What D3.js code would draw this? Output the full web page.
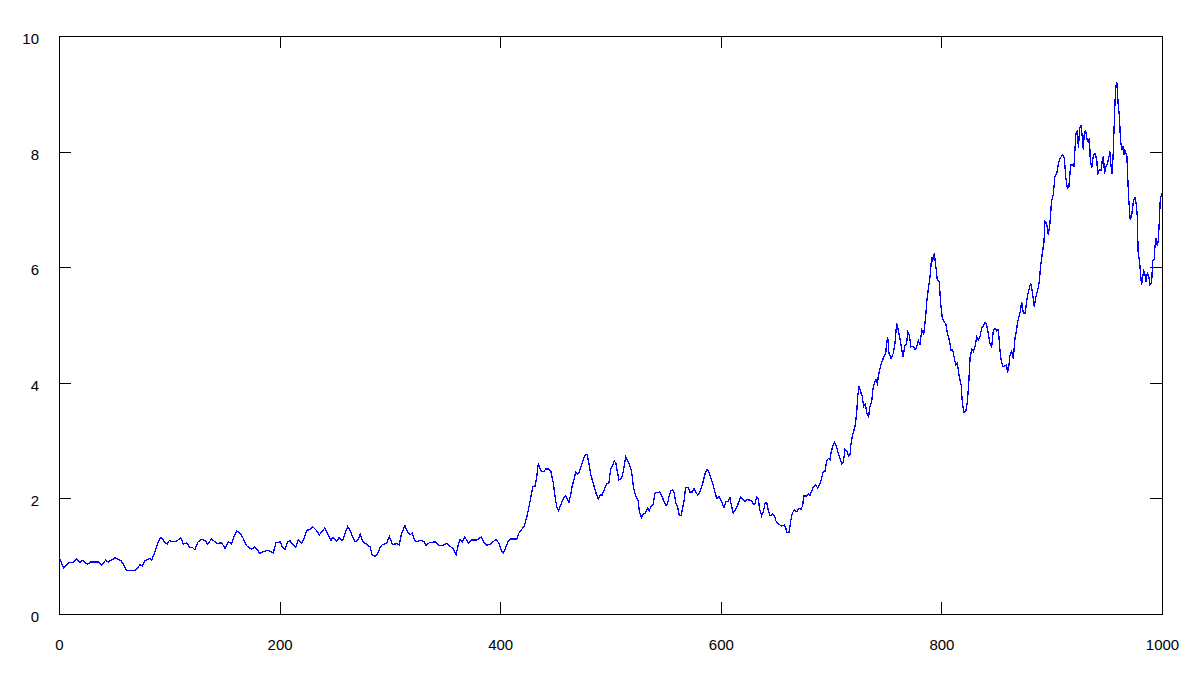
<!DOCTYPE html>
<html>
<head>
<meta charset="utf-8">
<script src="https://cdn.jsdelivr.net/npm/d3@7"></script>
<style>
  body { margin: 0; background: #fff; }
  svg { display: block; }
  .axis text { font-family: Arial, "Liberation Sans", sans-serif; font-size: 15px; fill: #000; }
  .axis path, .axis line { stroke: #000; }
</style>
</head>
<body>
<svg id="svg" width="1199" height="684"></svg>
<script>
"use strict";

// x positions (steps 0..1000)
const steps = [
  0, 4, 9, 13, 16, 19, 21.5, 25.7, 28.7, 35.7, 38.7, 42.3, 44.7, 50.8, 56.2, 58.3, 61.3, 68.9, 73.4, 75.5,
  78, 82.5, 84, 87, 89.5, 91.8, 93.6, 96, 98, 100, 102, 106.7, 110.3, 112.7, 116, 118.2, 121, 123.3, 125.7, 129.4,
  132.4, 134.8, 138.4, 143, 147.5, 150.5, 153.5, 156.5, 158.7, 161, 163.3, 166.2, 170.2, 174.7, 177.7, 182.2, 185.2, 189.8, 194.3, 196.7,
  200.4, 202.5, 204.9, 207.3, 209.4, 211, 214.6, 217, 220, 222.4, 224.5, 227.5, 230, 233.7, 236, 238.8, 240.9, 242.7, 245, 246.6,
  248.4, 251.7, 253.8, 257.2, 259.3, 261.7, 263.9, 266.2, 268.4, 270.8, 273.2, 275.3, 278, 282, 284, 286.5, 288.6, 291, 293.1, 297,
  299.5, 302.3, 306.3, 308.4, 310.7, 313.7, 316, 318.1, 320.3, 322.2, 324.3, 327.3, 331.2, 332.8, 335.5, 341, 344.5, 348.5, 351.5, 353.6,
  357, 360, 361.5, 363.6, 365.7, 368, 371.3, 374, 378.5, 383, 385.5, 387.6, 391.5, 393.6, 396.2, 399, 401, 403, 405, 407,
  409, 415, 417, 419, 421.8, 424, 425.5, 427.6, 429.5, 431.5, 433, 434.6, 436, 437.6, 440, 441.2, 444, 446, 448.2, 449.7,
  451.2, 453, 455, 457.2, 459.3, 461, 462.3, 464.2, 465.4, 466.9, 468.4, 470.2, 471.4, 473.3, 474.8, 476.9, 478.7, 480.5, 482.3, 484.4,
  486, 487.4, 489, 490.7, 492.5, 494.3, 496.5, 498.5, 500.1, 502, 503.5, 505, 506.2, 507.7, 510, 511.5, 513.8, 515.3, 516.8, 518.6,
  519.8, 520.7, 522.2, 523.7, 525.2, 526.1, 528.2, 529.7, 531.8, 533.7, 535, 536.8, 538.6, 540.3, 542.4, 544.9, 547, 548.8, 550.3, 551.8,
  553.3, 554.8, 556.3, 557.8, 559.3, 560.8, 562.4, 563.9, 565.4, 566.6, 568.1, 570.5, 572, 574.2, 575.7, 577.2, 579, 581.1, 582.6, 584.4,
  586.2, 587.7, 589.2, 591, 593.1, 594.6, 596.3, 598.4, 600.8, 602.9, 604.7, 606.8, 608.3, 609.8, 611.3, 613.4, 615.2, 616.8, 618, 620.4,
  621.9, 624, 628, 629.5, 631, 632.5, 634, 635, 637, 638.6, 640.1, 641.6, 643.1, 644.6, 647, 648.6, 650, 652.2, 655.2, 657.6,
  659, 659.7, 661.8, 663.3, 664.8, 666.4, 668.8, 670.8, 672.6, 674.1, 675.4, 677.8, 679.3, 680.8, 682.3, 683.8, 686, 687.8, 689.9, 691.4,
  692.9, 694.4, 696, 697.5, 699, 699.9, 701.1, 702.9, 705, 706.5, 708.1, 709.6, 711.1, 712.6, 714.2, 715.7, 717.2, 718, 719.5, 721.6,
  723.2, 724.1, 725.3, 726.8, 728.3, 729.5, 731, 732.5, 734, 735.2, 736.8, 738, 739.2, 740.7, 741.9, 742.8, 744.3, 745.9, 748, 749.5,
  750.4, 751.3, 752.5, 754.3, 756.4, 757.9, 759.4, 760.9, 762.4, 763.9, 765.2, 767, 768.5, 769.4, 770.9, 772.4, 774.6, 776.1, 777.6, 779.1,
  780.6, 782.2, 784, 785.8, 786.7, 788.2, 789.7, 791.2, 792.1, 793.6, 794.8, 796.3, 798.1, 799.3, 800.8, 802.6, 804.2, 805.7, 807.2, 808.7,
  810.2, 811.8, 813, 814.5, 816, 817.9, 819.1, 820.6, 822.1, 823.5, 825, 826, 827.5, 829, 830.6, 832, 833.6, 835.1, 836.6, 838.1,
  839.6, 841.1, 842.6, 844.1, 845.6, 847.1, 848.6, 850.2, 851.7, 852.8, 854, 855.6, 857.6, 859.1, 860, 861.3, 862.2, 863.7, 865.2, 866.7,
  868.2, 869.1, 870.3, 871.5, 872.8, 874.3, 875.8, 877.3, 878.2, 879.7, 880.9, 882.4, 884.2, 885.7, 887.2, 888.7, 889.9, 891.5, 893, 893.9,
  895.4, 896.9, 898.4, 899.9, 901.4, 902.9, 904.5, 906, 907.5, 909.6, 911.4, 912.7, 914.1, 915.6, 917.2, 918.7, 920.2, 921.1, 922, 923.3,
  924.2, 925.3, 926.5, 927.7, 928.7, 929.6, 930.8, 932.1, 933.2, 934.2, 935, 936.3, 937.8, 939.3, 940.9, 941.7, 943, 944.8, 946, 947,
  947.9, 949.1, 950.6, 951.9, 952.9, 953.8, 954.8, 955.7, 956.5, 957.4, 958.3, 959, 959.6, 960.4, 961.3, 962.4, 963.6, 964.5, 965.3, 966.4,
  968.2, 968.8, 970, 971.2, 972.3, 973.8, 975.3, 976.5, 977.7, 978.3, 979.8, 980.8, 981.4, 982.3, 983.3, 984.3, 985.5, 986.7, 987.8, 989.1,
  990.6, 991.6, 992.9, 993.6, 994.6, 995.8, 996.7, 997.6, 998.5, 1000
];

const values = [
  0.99, 0.80, 0.89, 0.89, 0.96, 0.89, 0.93, 0.86, 0.90, 0.90, 0.85, 0.93, 0.90, 0.97, 0.92, 0.87, 0.75, 0.75, 0.85, 0.83,
  0.92, 0.96, 0.93, 1.08, 1.23, 1.32, 1.31, 1.23, 1.21, 1.27, 1.25, 1.26, 1.32, 1.21, 1.23, 1.16, 1.15, 1.11, 1.24, 1.29,
  1.27, 1.21, 1.30, 1.22, 1.23, 1.14, 1.25, 1.21, 1.34, 1.44, 1.41, 1.34, 1.18, 1.12, 1.16, 1.05, 1.08, 1.10, 1.06, 1.23,
  1.25, 1.16, 1.11, 1.25, 1.27, 1.22, 1.15, 1.28, 1.22, 1.31, 1.45, 1.46, 1.51, 1.44, 1.37, 1.43, 1.49, 1.43, 1.33, 1.27,
  1.33, 1.26, 1.32, 1.27, 1.40, 1.51, 1.45, 1.33, 1.25, 1.28, 1.38, 1.25, 1.22, 1.16, 1.02, 1.00, 1.03, 1.15, 1.20, 1.22,
  1.34, 1.20, 1.22, 1.20, 1.40, 1.53, 1.42, 1.37, 1.40, 1.28, 1.25, 1.28, 1.25, 1.18, 1.23, 1.25, 1.18, 1.19, 1.22, 1.18,
  1.14, 1.02, 1.16, 1.29, 1.25, 1.33, 1.22, 1.28, 1.28, 1.33, 1.23, 1.19, 1.21, 1.25, 1.29, 1.22, 1.10, 1.05, 1.15, 1.25,
  1.30, 1.30, 1.40, 1.45, 1.52, 1.67, 1.80, 2.00, 2.20, 2.21, 2.35, 2.61, 2.52, 2.47, 2.47, 2.51, 2.51, 2.46, 2.26, 2.03,
  1.86, 1.79, 1.89, 2.00, 2.04, 1.98, 1.93, 2.09, 2.23, 2.32, 2.45, 2.42, 2.45, 2.55, 2.65, 2.75, 2.76, 2.60, 2.40, 2.26,
  2.15, 2.06, 1.99, 2.06, 2.06, 2.15, 2.25, 2.26, 2.50, 2.58, 2.65, 2.60, 2.46, 2.32, 2.35, 2.46, 2.72, 2.65, 2.61, 2.50,
  2.38, 2.20, 2.09, 2.00, 1.96, 1.77, 1.67, 1.73, 1.75, 1.83, 1.78, 1.86, 1.89, 2.09, 2.10, 2.11, 2.02, 1.93, 1.87, 1.91,
  2.06, 2.13, 2.15, 2.09, 1.91, 1.86, 1.70, 1.70, 1.83, 1.95, 2.19, 2.19, 2.11, 2.11, 2.17, 2.11, 2.06, 2.11, 2.20, 2.32,
  2.46, 2.50, 2.46, 2.35, 2.23, 2.11, 2.00, 2.03, 1.94, 1.84, 1.94, 1.95, 2.01, 1.86, 1.75, 1.81, 1.88, 1.97, 2.03, 1.98,
  1.94, 1.98, 1.96, 1.89, 1.91, 2.03, 2.00, 1.83, 1.70, 1.77, 1.91, 1.93, 1.79, 1.70, 1.73, 1.70, 1.61, 1.56, 1.52, 1.54,
  1.48, 1.41, 1.41, 1.60, 1.74, 1.80, 1.77, 1.83, 1.81, 1.87, 2.04, 2.04, 2.08, 2.05, 2.12, 2.20, 2.23, 2.18, 2.25, 2.35,
  2.46, 2.47, 2.65, 2.69, 2.67, 2.78, 2.88, 2.97, 2.89, 2.78, 2.69, 2.60, 2.62, 2.85, 2.82, 2.73, 2.76, 2.94, 3.10, 3.24,
  3.47, 3.76, 3.95, 3.84, 3.76, 3.59, 3.63, 3.47, 3.41, 3.59, 3.67, 3.90, 3.99, 4.05, 3.99, 4.11, 4.25, 4.35, 4.46, 4.50,
  4.71, 4.79, 4.51, 4.42, 4.51, 4.68, 5.03, 4.91, 4.77, 4.60, 4.44, 4.65, 4.68, 4.88, 4.83, 4.62, 4.63, 4.57, 4.62, 4.73,
  4.67, 4.91, 4.84, 5.16, 5.40, 5.63, 5.84, 6.18, 6.12, 6.24, 6.04, 5.78, 5.75, 5.38, 5.12, 5.06, 5.00, 4.83, 4.74, 4.57,
  4.57, 4.42, 4.31, 4.34, 4.13, 3.96, 3.62, 3.49, 3.50, 3.66, 4.06, 4.44, 4.58, 4.54, 4.64, 4.80, 4.74, 4.80, 4.96, 4.98,
  5.05, 5.00, 4.84, 4.67, 4.62, 4.91, 4.94, 4.90, 4.92, 4.62, 4.41, 4.28, 4.29, 4.31, 4.17, 4.31, 4.48, 4.54, 4.42, 4.77,
  4.91, 5.06, 5.14, 5.23, 5.40, 5.20, 5.20, 5.40, 5.52, 5.63, 5.72, 5.58, 5.32, 5.49, 5.59, 5.75, 6.01, 6.24, 6.44, 6.79,
  6.76, 6.56, 6.76, 7.15, 7.25, 7.57, 7.62, 7.78, 7.88, 7.94, 7.90, 7.57, 7.37, 7.40, 7.77, 7.77, 7.75, 8.04, 8.32, 8.35,
  8.06, 8.40, 8.45, 8.26, 8.03, 8.35, 8.36, 8.20, 8.17, 8.23, 7.85, 7.71, 7.94, 7.97, 7.85, 7.60, 7.68, 7.68, 7.88, 7.90,
  7.62, 7.74, 7.80, 7.91, 8.00, 7.74, 7.61, 7.94, 8.37, 8.86, 9.14, 9.21, 9.04, 8.78, 8.63, 8.20, 8.03, 8.09, 7.94, 8.03,
  7.91, 7.60, 7.13, 6.82, 6.87, 7.10, 7.22, 7.10, 6.87, 6.27, 6.07, 5.84, 5.69, 5.79, 5.94, 5.90, 5.75, 5.90, 5.87, 5.69,
  5.73, 6.11, 6.13, 6.36, 6.50, 6.36, 6.47, 6.82, 7.19, 7.28
];

const xTicks = [0, 200, 400, 600, 800, 1000];
const yTicks = [0, 2, 4, 6, 8, 10];

const margin = { left: 59, right: 37, top: 36, bottom: 70 };
const tickLen = 12;

var svg = d3.select("svg");
var width = +svg.attr("width") - margin.left - margin.right;
var height = +svg.attr("height") - margin.top - margin.bottom;

var g = svg.append("g")
    .attr("transform", "translate(" + margin.left + "," + margin.top + ")");

var x = d3.scaleLinear().domain([0, 1000]).range([0, width]);
var y = d3.scaleLinear().domain([0, 10]).range([height, 0]);
var fmt = d3.format("d");

// bottom axis with labels, ticks pointing inward
g.append("g")
    .attr("class", "axis")
    .attr("transform", "translate(0," + height + ")")
    .call(d3.axisBottom(x).tickValues(xTicks).tickFormat(fmt).tickSize(-tickLen).tickSizeOuter(0).tickPadding(25))
    .selectAll("text").attr("dy", "0.71em");

// top mirror
g.append("g")
    .attr("class", "axis")
    .call(d3.axisTop(x).tickValues(xTicks).tickSize(-tickLen).tickSizeOuter(0).tickFormat(""));

// left axis with labels
g.append("g")
    .attr("class", "axis")
    .call(d3.axisLeft(y).tickValues(yTicks).tickFormat(fmt).tickSize(-tickLen).tickSizeOuter(0).tickPadding(20))
    .selectAll("text").attr("dy", "0.5em");

// right mirror
g.append("g")
    .attr("class", "axis")
    .attr("transform", "translate(" + width + ",0)")
    .call(d3.axisRight(y).tickValues(yTicks).tickSize(-tickLen).tickSizeOuter(0).tickFormat(""));

g.selectAll(".axis .tick line").attr("shape-rendering", "crispEdges");
g.selectAll(".axis path.domain").attr("shape-rendering", "crispEdges");

var line = d3.line()
    .x(d => x(d[0]))
    .y(d => y(d[1]));

// aliased stroke, like the pixel-stepped line of the original
g.append("path")
    .datum(d3.zip(steps, values))
    .attr("fill", "none")
    .attr("stroke", "#0000ff")
    .attr("stroke-width", 1.3)
    .attr("shape-rendering", "crispEdges")
    .attr("d", line);
</script>
</body>
</html>
